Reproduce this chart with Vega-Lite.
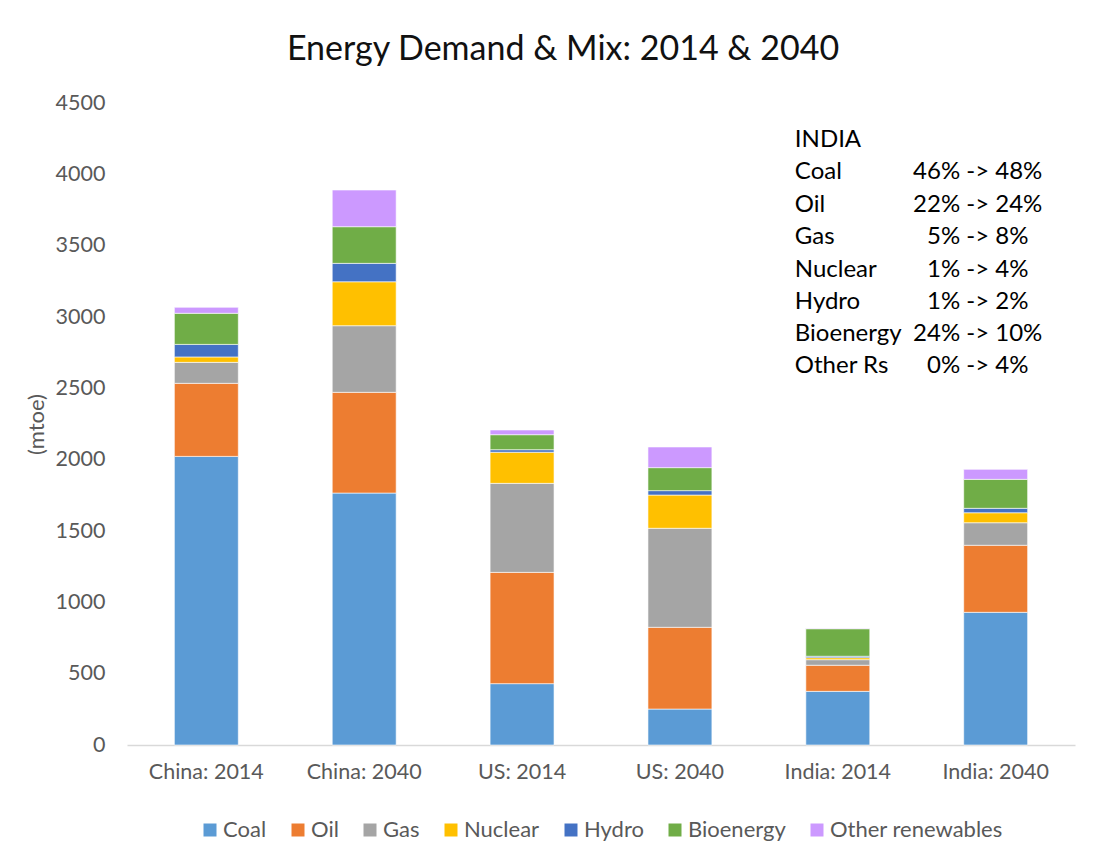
{
  "$schema": "https://vega.github.io/schema/vega-lite/v6.json",
  "autosize": {"type": "none"},
  "width": 948,
  "height": 642,
  "padding": {"left": 127, "top": 103, "right": 37, "bottom": 120},
  "background": "white",
  "config": {
    "font": "Lato",
    "view": {"stroke": null},
    "axis": {"labelFont": "Lato", "titleFont": "Lato"},
    "legend": {"labelFont": "Lato", "layout": {"bottom": {"anchor": "middle"}}}
  },
  "title": {
    "text": "Energy Demand & Mix: 2014 & 2040",
    "fontSize": 34,
    "fontWeight": "normal",
    "color": "#111111",
    "anchor": "middle",
    "offset": 25,
    "dx": -38
  },
  "layer": [
    {
      "data": {
        "values": [
          {"cat": "China: 2014", "fuel": "Coal", "k": 1, "v": 2023},
          {"cat": "China: 2014", "fuel": "Oil", "k": 2, "v": 512},
          {"cat": "China: 2014", "fuel": "Gas", "k": 3, "v": 147},
          {"cat": "China: 2014", "fuel": "Nuclear", "k": 4, "v": 38},
          {"cat": "China: 2014", "fuel": "Hydro", "k": 5, "v": 88},
          {"cat": "China: 2014", "fuel": "Bioenergy", "k": 6, "v": 218},
          {"cat": "China: 2014", "fuel": "Other renewables", "k": 7, "v": 42},
          {"cat": "China: 2040", "fuel": "Coal", "k": 1, "v": 1766},
          {"cat": "China: 2040", "fuel": "Oil", "k": 2, "v": 706},
          {"cat": "China: 2040", "fuel": "Gas", "k": 3, "v": 467},
          {"cat": "China: 2040", "fuel": "Nuclear", "k": 4, "v": 308},
          {"cat": "China: 2040", "fuel": "Hydro", "k": 5, "v": 129},
          {"cat": "China: 2040", "fuel": "Bioenergy", "k": 6, "v": 257},
          {"cat": "China: 2040", "fuel": "Other renewables", "k": 7, "v": 257},
          {"cat": "US: 2014", "fuel": "Coal", "k": 1, "v": 430},
          {"cat": "US: 2014", "fuel": "Oil", "k": 2, "v": 780},
          {"cat": "US: 2014", "fuel": "Gas", "k": 3, "v": 624},
          {"cat": "US: 2014", "fuel": "Nuclear", "k": 4, "v": 218},
          {"cat": "US: 2014", "fuel": "Hydro", "k": 5, "v": 18},
          {"cat": "US: 2014", "fuel": "Bioenergy", "k": 6, "v": 105},
          {"cat": "US: 2014", "fuel": "Other renewables", "k": 7, "v": 33},
          {"cat": "US: 2040", "fuel": "Coal", "k": 1, "v": 252},
          {"cat": "US: 2040", "fuel": "Oil", "k": 2, "v": 573},
          {"cat": "US: 2040", "fuel": "Gas", "k": 3, "v": 694},
          {"cat": "US: 2040", "fuel": "Nuclear", "k": 4, "v": 233},
          {"cat": "US: 2040", "fuel": "Hydro", "k": 5, "v": 31},
          {"cat": "US: 2040", "fuel": "Bioenergy", "k": 6, "v": 161},
          {"cat": "US: 2040", "fuel": "Other renewables", "k": 7, "v": 145},
          {"cat": "India: 2014", "fuel": "Coal", "k": 1, "v": 376},
          {"cat": "India: 2014", "fuel": "Oil", "k": 2, "v": 183},
          {"cat": "India: 2014", "fuel": "Gas", "k": 3, "v": 39},
          {"cat": "India: 2014", "fuel": "Nuclear", "k": 4, "v": 14},
          {"cat": "India: 2014", "fuel": "Hydro", "k": 5, "v": 10},
          {"cat": "India: 2014", "fuel": "Bioenergy", "k": 6, "v": 193},
          {"cat": "India: 2014", "fuel": "Other renewables", "k": 7, "v": 3},
          {"cat": "India: 2040", "fuel": "Coal", "k": 1, "v": 930},
          {"cat": "India: 2040", "fuel": "Oil", "k": 2, "v": 470},
          {"cat": "India: 2040", "fuel": "Gas", "k": 3, "v": 158},
          {"cat": "India: 2040", "fuel": "Nuclear", "k": 4, "v": 70},
          {"cat": "India: 2040", "fuel": "Hydro", "k": 5, "v": 31},
          {"cat": "India: 2040", "fuel": "Bioenergy", "k": 6, "v": 203},
          {"cat": "India: 2040", "fuel": "Other renewables", "k": 7, "v": 70}
        ]
      },
      "mark": {"type": "bar", "stroke": "#ffffff", "strokeWidth": 0.6},
      "encoding": {
        "x": {
          "field": "cat",
          "type": "nominal",
          "sort": null,
          "scale": {"paddingInner": 0.595, "paddingOuter": 0.3},
          "axis": {
            "title": null,
            "labelAngle": 0,
            "labelFontSize": 21.5,
            "labelColor": "#595959",
            "labelPadding": 16,
            "ticks": false,
            "domainColor": "#d9d9d9",
            "domainWidth": 1.5
          }
        },
        "y": {
          "field": "v",
          "type": "quantitative",
          "stack": "zero",
          "scale": {"domain": [0, 4500], "nice": false},
          "axis": {
            "values": [0, 500, 1000, 1500, 2000, 2500, 3000, 3500, 4000, 4500],
            "format": "d",
            "title": "(mtoe)",
            "titleFontSize": 22,
            "titleFontWeight": "normal",
            "titleColor": "#595959",
            "titlePadding": 7,
            "labelFontSize": 21.5,
            "labelColor": "#595959",
            "labelPadding": 22,
            "domain": false,
            "ticks": false,
            "grid": false
          }
        },
        "color": {
          "field": "fuel",
          "type": "nominal",
          "scale": {
            "domain": ["Coal", "Oil", "Gas", "Nuclear", "Hydro", "Bioenergy", "Other renewables"],
            "range": ["#5B9BD5", "#ED7D31", "#A5A5A5", "#FFC000", "#4472C4", "#70AD47", "#CC99FF"]
          },
          "legend": {
            "title": null,
            "orient": "bottom",
            "direction": "horizontal",
            "symbolType": "square",
            "symbolSize": 169,
            "symbolStrokeWidth": 0,
            "labelFontSize": 22,
            "labelColor": "#595959",
            "labelLimit": 400,
            "labelOffset": 2,
            "columnPadding": 20,
            "offset": 36
          }
        },
        "order": {"field": "k", "type": "quantitative", "sort": "ascending"}
      }
    },
    {
      "data": {
        "values": [
          {"cat": "India: 2014", "t": "INDIA", "y": 4240},
          {"cat": "India: 2014", "t": "Coal", "y": 4016},
          {"cat": "India: 2014", "t": "Oil", "y": 3785},
          {"cat": "India: 2014", "t": "Gas", "y": 3561},
          {"cat": "India: 2014", "t": "Nuclear", "y": 3329},
          {"cat": "India: 2014", "t": "Hydro", "y": 3105},
          {"cat": "India: 2014", "t": "Bioenergy", "y": 2881},
          {"cat": "India: 2014", "t": "Other Rs", "y": 2656}
        ]
      },
      "mark": {"type": "text", "align": "left", "baseline": "middle", "fontSize": 24, "color": "#000000", "dx": -11},
      "encoding": {
        "x": {"field": "cat", "type": "nominal", "sort": null, "bandPosition": 0},
        "y": {"field": "y", "type": "quantitative"},
        "text": {"field": "t", "type": "nominal"}
      }
    },
    {
      "data": {
        "values": [
          {"cat": "India: 2040", "t": "46% -> 48%", "y": 4016},
          {"cat": "India: 2040", "t": "22% -> 24%", "y": 3785},
          {"cat": "India: 2040", "t": "5% ->  8%", "y": 3561},
          {"cat": "India: 2040", "t": "1% -> 4%", "y": 3329},
          {"cat": "India: 2040", "t": "1% -> 2%", "y": 3105},
          {"cat": "India: 2040", "t": "24% -> 10%", "y": 2881},
          {"cat": "India: 2040", "t": "0% -> 4%", "y": 2656}
        ]
      },
      "mark": {"type": "text", "align": "center", "baseline": "middle", "fontSize": 24, "color": "#000000", "dx": 14},
      "encoding": {
        "x": {"field": "cat", "type": "nominal", "sort": null, "bandPosition": 0},
        "y": {"field": "y", "type": "quantitative"},
        "text": {"field": "t", "type": "nominal"}
      }
    }
  ]
}
